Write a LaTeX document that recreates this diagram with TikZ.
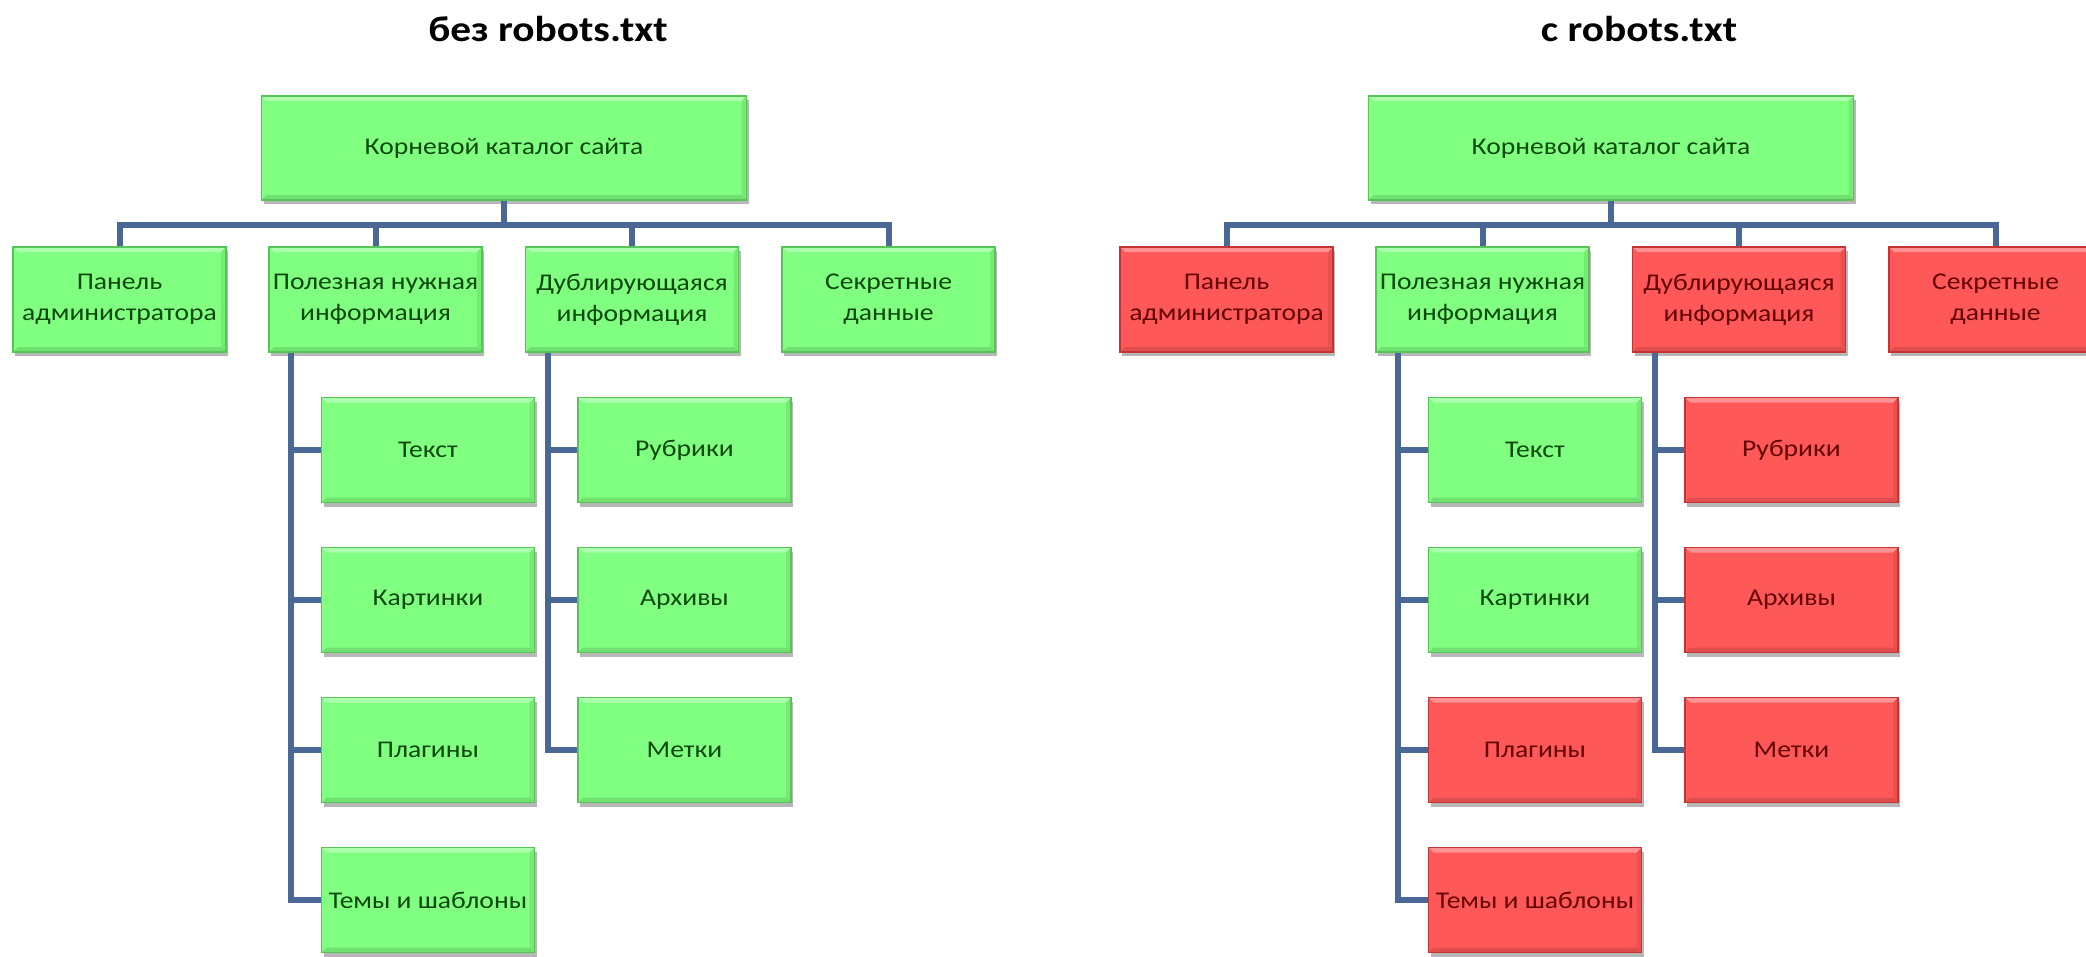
\documentclass[tikz,border=0pt]{standalone}
\usepackage{fontspec}
\setmainfont{Carlito}[FakeStretch=1.15]
\usetikzlibrary{shadows}
\definecolor{gfill}{RGB}{128,255,128}
\definecolor{gline}{RGB}{88,196,88}
\definecolor{gtext}{RGB}{12,72,12}
\definecolor{rfill}{RGB}{255,88,88}
\definecolor{rline}{RGB}{196,52,52}
\definecolor{rtext}{RGB}{100,4,4}
\definecolor{conncol}{RGB}{74,104,150}
\begin{document}
\begin{tikzpicture}[x=0.5pt,y=-0.5pt,
  bevel/.style={path picture={
    \fill[white,opacity=0.35] (path picture bounding box.north west) -- (path picture bounding box.north east)
      -- ([xshift=-2.5pt,yshift=-2.5pt]path picture bounding box.north east)
      -- ([xshift=2.5pt,yshift=-2.5pt]path picture bounding box.north west) -- cycle;
    \fill[black,opacity=0.12] (path picture bounding box.south west) -- (path picture bounding box.south east)
      -- ([xshift=-2.5pt,yshift=2.5pt]path picture bounding box.south east)
      -- ([xshift=2.5pt,yshift=2.5pt]path picture bounding box.south west) -- cycle;
    \fill[black,opacity=0.08] (path picture bounding box.south east) -- (path picture bounding box.north east)
      -- ([xshift=-2.5pt,yshift=-2.5pt]path picture bounding box.north east)
      -- ([xshift=-2.5pt,yshift=2.5pt]path picture bounding box.south east) -- cycle;}},
  box/.style={draw, line width=0.8pt, minimum width=106.5pt, minimum height=52.5pt,
    inner sep=0pt, align=center, font=\fontsize{12pt}{15.5pt}\selectfont, bevel,
    drop shadow={shadow xshift=1.2pt, shadow yshift=-2pt, opacity=0.4, fill=black!70}},
  gbox/.style={box, fill=gfill, draw=gline, text=gtext},
  rbox/.style={box, fill=rfill, draw=rline, text=rtext},
  rootbox/.style={gbox, minimum width=242.5pt, minimum height=52pt},
  conn/.style={draw=conncol, line width=3pt},
  ttl/.style={font=\fontsize{18pt}{20pt}\selectfont\bfseries, text=black, inner sep=0pt}]
\useasboundingbox (0,0) rectangle (2086,957);
\fill[white] (0,0) rectangle (2086,957);
\clip (0,0) rectangle (2086,957);

% ---------- left tree ----------
\node[ttl] (Lt) at (548,29) {без robots.txt};
\node[rootbox] (Lroot) at (504,148) {Корневой каталог сайта};
\node[gbox] (La) at (119.5,299.5) {Панель\\администратора};
\node[gbox] (Lb) at (375.5,299.5) {Полезная нужная\\информация};
\node[gbox] (Lc) at (632,299.5) {Дублирующаяся\\информация};
\node[gbox] (Ld) at (888.5,299.5) {Секретные\\данные};
\node[gbox] (Lb1) at (428,450) {Текст};
\node[gbox] (Lb2) at (428,600) {Картинки};
\node[gbox] (Lb3) at (428,750) {Плагины};
\node[gbox] (Lb4) at (428,900) {Темы и шаблоны};
\node[gbox] (Lc1) at (684.5,450) {Рубрики};
\node[gbox] (Lc2) at (684.5,600) {Архивы};
\node[gbox] (Lc3) at (684.5,750) {Метки};

\coordinate (Lbus) at (0,225);
\foreach \n in {La,Lb,Lc,Ld}
  \draw[conn] (Lroot.south) -- (Lroot.south |- Lbus) -| (\n.north);
\foreach \n in {Lb1,Lb2,Lb3,Lb4}
  \draw[conn] ([xshift=11.5pt]Lb.south west) |- (\n.west);
\foreach \n in {Lc1,Lc2,Lc3}
  \draw[conn] ([xshift=11.5pt]Lc.south west) |- (\n.west);

% ---------- right tree ----------
\node[ttl] (Rt) at (1639,29) {с robots.txt};
\node[rootbox] (Rroot) at (1611,148) {Корневой каталог сайта};
\node[rbox] (Ra) at (1226.5,299.5) {Панель\\администратора};
\node[gbox] (Rb) at (1482.5,299.5) {Полезная нужная\\информация};
\node[rbox] (Rc) at (1739,299.5) {Дублирующаяся\\информация};
\node[rbox] (Rd) at (1995.5,299.5) {Секретные\\данные};
\node[gbox] (Rb1) at (1535,450) {Текст};
\node[gbox] (Rb2) at (1535,600) {Картинки};
\node[rbox] (Rb3) at (1535,750) {Плагины};
\node[rbox] (Rb4) at (1535,900) {Темы и шаблоны};
\node[rbox] (Rc1) at (1791.5,450) {Рубрики};
\node[rbox] (Rc2) at (1791.5,600) {Архивы};
\node[rbox] (Rc3) at (1791.5,750) {Метки};

\coordinate (Rbus) at (0,225);
\foreach \n in {Ra,Rb,Rc,Rd}
  \draw[conn] (Rroot.south) -- (Rroot.south |- Rbus) -| (\n.north);
\foreach \n in {Rb1,Rb2,Rb3,Rb4}
  \draw[conn] ([xshift=11.5pt]Rb.south west) |- (\n.west);
\foreach \n in {Rc1,Rc2,Rc3}
  \draw[conn] ([xshift=11.5pt]Rc.south west) |- (\n.west);
\end{tikzpicture}
\end{document}
